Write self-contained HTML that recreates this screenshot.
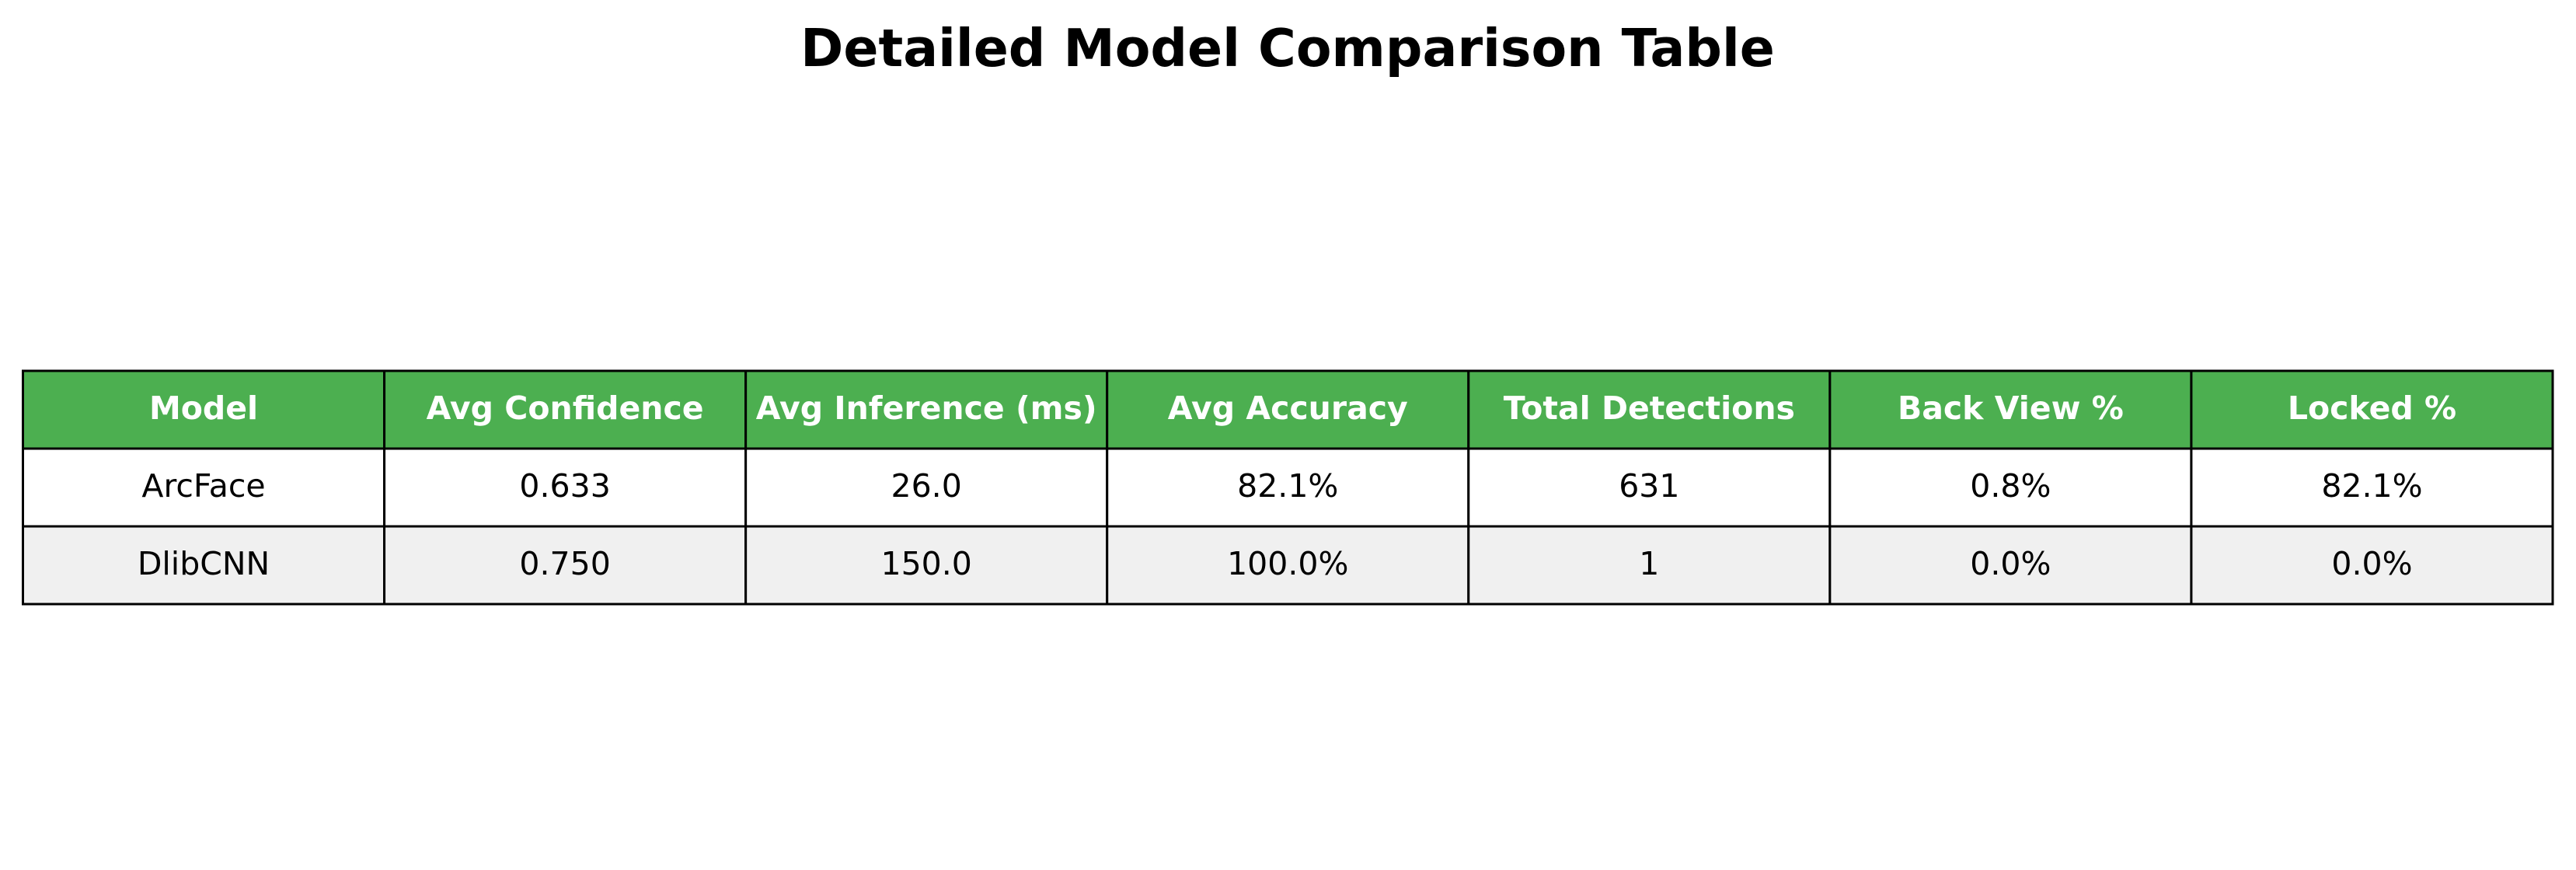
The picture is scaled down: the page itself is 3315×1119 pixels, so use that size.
<!DOCTYPE html>
<html><head><meta charset="utf-8"><style>
html,body{margin:0;padding:0;background:#fff;}
svg{display:block;font-family:"DejaVu Sans","Liberation Sans",sans-serif;}
</style></head><body>
<svg id="chart" width="3315" height="1119" viewBox="0 0 3315 1119" xmlns="http://www.w3.org/2000/svg">
<rect width="3315" height="1119" fill="#fff"/>
<text x="1657" y="85" text-anchor="middle" font-size="66.5" font-weight="bold" fill="#000">Detailed Model Comparison Table</text>
<g id="tbl"></g>
</svg>
<script>
const headers = ["Model","Avg Confidence","Avg Inference (ms)","Avg Accuracy","Total Detections","Back View %","Locked %"];
const models = ["ArcFace","DlibCNN"];
const avgConfidence = ["0.633","0.750"];
const avgInference = ["26.0","150.0"];
const avgAccuracy = ["82.1%","100.0%"];
const totalDetections = ["631","1"];
const backView = ["0.8%","0.0%"];
const locked = ["82.1%","0.0%"];

const NS = "http://www.w3.org/2000/svg";
const tblG = document.getElementById('tbl');
const tblLeft = 29.5, tblRight = 3285, tblTop = 477, rowH = 100;
const colW = (tblRight - tblLeft) / headers.length;
function mk(tag, attrs){ const e = document.createElementNS(NS, tag); for (const k in attrs) e.setAttribute(k, attrs[k]); return e; }
function cell(r, c, txt, fill, bold, color){
  const x = tblLeft + c*colW, y = tblTop + r*rowH;
  const rect = mk('rect', {x:x, y:y, width:colW, height:rowH, fill:fill, stroke:'#000', 'stroke-width':3});
  
  
  tblG.appendChild(rect);
  const t = mk('text', {x:x+colW/2, y:y+rowH/2+12, 'text-anchor':'middle', 'font-size':41, fill:color});
  if (bold) t.setAttribute('font-weight','bold');
  t.textContent = txt;
  
  
  tblG.appendChild(t);
}
headers.forEach((h,c)=>cell(0,c,h,'#4CAF50',true,'#fff'));
const cols = [models, avgConfidence, avgInference, avgAccuracy, totalDetections, backView, locked];
models.forEach((m,i)=>{
  cols.forEach((arr,c)=>cell(i+1,c,arr[i], i%2===0 ? '#ffffff' : '#f0f0f0', false, '#000'));
});
</script>
</body></html>
